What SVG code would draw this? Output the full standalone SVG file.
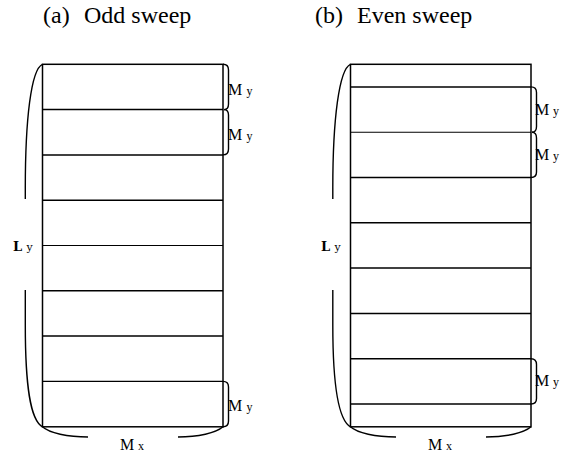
<svg xmlns="http://www.w3.org/2000/svg" width="571" height="457" viewBox="0 0 571 457">
<style>
.ln{stroke:#000;stroke-width:1.5;fill:none}
.thin{stroke:#000;stroke-width:1.1;fill:none}
.br{stroke:#000;stroke-width:1.4;fill:none}
</style>
<g id="titles" font-family="Liberation Serif, Times New Roman, serif" font-size="24" fill="#000">
<text x="43" y="23">(a)<tspan x="84">Odd sweep</tspan></text>
<text x="315" y="23">(b)<tspan x="357">Even sweep</tspan></text>
</g>
<g id="panel-a">
<rect class="ln" x="42.5" y="64.3" width="180.5" height="362.5"/>
<line class="ln" x1="42.5" y1="109.6" x2="223" y2="109.6"/>
<line class="ln" x1="42.5" y1="154.9" x2="223" y2="154.9"/>
<line class="ln" x1="42.5" y1="200.2" x2="223" y2="200.2"/>
<line class="thin" x1="42.5" y1="245.5" x2="223" y2="245.5"/>
<line class="ln" x1="42.5" y1="290.8" x2="223" y2="290.8"/>
<line class="ln" x1="42.5" y1="336.1" x2="223" y2="336.1"/>
<line class="thin" x1="42.5" y1="381.4" x2="223" y2="381.4"/>
</g>
<g id="panel-b">
<rect class="ln" x="350.5" y="64.3" width="180.5" height="362.5"/>
<line class="ln" x1="350.5" y1="86.9" x2="531" y2="86.9"/>
<line class="thin" x1="350.5" y1="132.2" x2="531" y2="132.2"/>
<line class="ln" x1="350.5" y1="177.5" x2="531" y2="177.5"/>
<line class="ln" x1="350.5" y1="222.8" x2="531" y2="222.8"/>
<line class="ln" x1="350.5" y1="268.1" x2="531" y2="268.1"/>
<line class="ln" x1="350.5" y1="313.4" x2="531" y2="313.4"/>
<line class="ln" x1="350.5" y1="358.7" x2="531" y2="358.7"/>
<line class="ln" x1="350.5" y1="404" x2="531" y2="404"/>
</g>
<g id="connectors">
<path class="br" d="M223,64.3 Q228.5,64.3 228.5,70 L228.5,104 Q228.5,109.6 224,109.6"/>
<path class="br" d="M224,109.6 Q228.5,109.6 228.5,115 L228.5,149 Q228.5,154.9 223,154.9"/>
<path class="br" d="M223,381.4 Q228.5,381.4 228.5,387 L228.5,421 Q228.5,426.8 223,426.8"/>
<path class="br" d="M42.5,64.3 C31,69 25.3,120 25.3,188 L25.3,199"/>
<path class="br" d="M25.3,290 L25.3,325 C25.3,385 30,420 42.5,426.8"/>
<path class="br" d="M42.5,426.8 C49,433 68,437 88,437"/>
<path class="br" d="M178,437 C198,437 216,433 223,426.8"/>
<path class="br" d="M531,86.9 Q536.5,86.9 536.5,92.5 L536.5,126.5 Q536.5,132.2 532,132.2"/>
<path class="br" d="M532,132.2 Q536.5,132.2 536.5,138 L536.5,172 Q536.5,177.5 531,177.5"/>
<path class="br" d="M531,358.7 Q536.5,358.7 536.5,364.5 L536.5,398.5 Q536.5,404 531,404"/>
<path class="br" d="M350.5,64.3 C339,69 332.8,120 332.8,188 L332.8,199"/>
<path class="br" d="M332.8,290 L332.8,325 C332.8,385 338,420 350.5,426.8"/>
<path class="br" d="M350.5,426.8 C357,433 376,437 396,437"/>
<path class="br" d="M486,437 C506,437 524,433 531,426.8"/>
</g>
<g id="labels" font-family="Liberation Serif, Times New Roman, serif" font-size="16" fill="#000">
<text x="228" y="94.5">M<tspan font-size="12" x="246.5">y</tspan></text>
<text x="228" y="139.8">M<tspan font-size="12" x="246.5">y</tspan></text>
<text x="228" y="411">M<tspan font-size="12" x="246.5">y</tspan></text>
<text x="535" y="114.5">M<tspan font-size="12" x="553">y</tspan></text>
<text x="535" y="159.8">M<tspan font-size="12" x="553">y</tspan></text>
<text x="535" y="386">M<tspan font-size="12" x="553">y</tspan></text>
<text x="120" y="449.5">M<tspan font-size="12" x="138">x</tspan></text>
<text x="428" y="449.5">M<tspan font-size="12" x="446">x</tspan></text>
</g>
<g id="ly-labels" font-family="DejaVu Serif, serif" font-size="13" font-weight="bold" fill="#000">
<text x="13" y="250.5">L<tspan font-weight="normal" font-size="11" x="26.5">y</tspan></text>
<text x="321" y="250.5">L<tspan font-weight="normal" font-size="11" x="334.5">y</tspan></text>
</g>
</svg>
